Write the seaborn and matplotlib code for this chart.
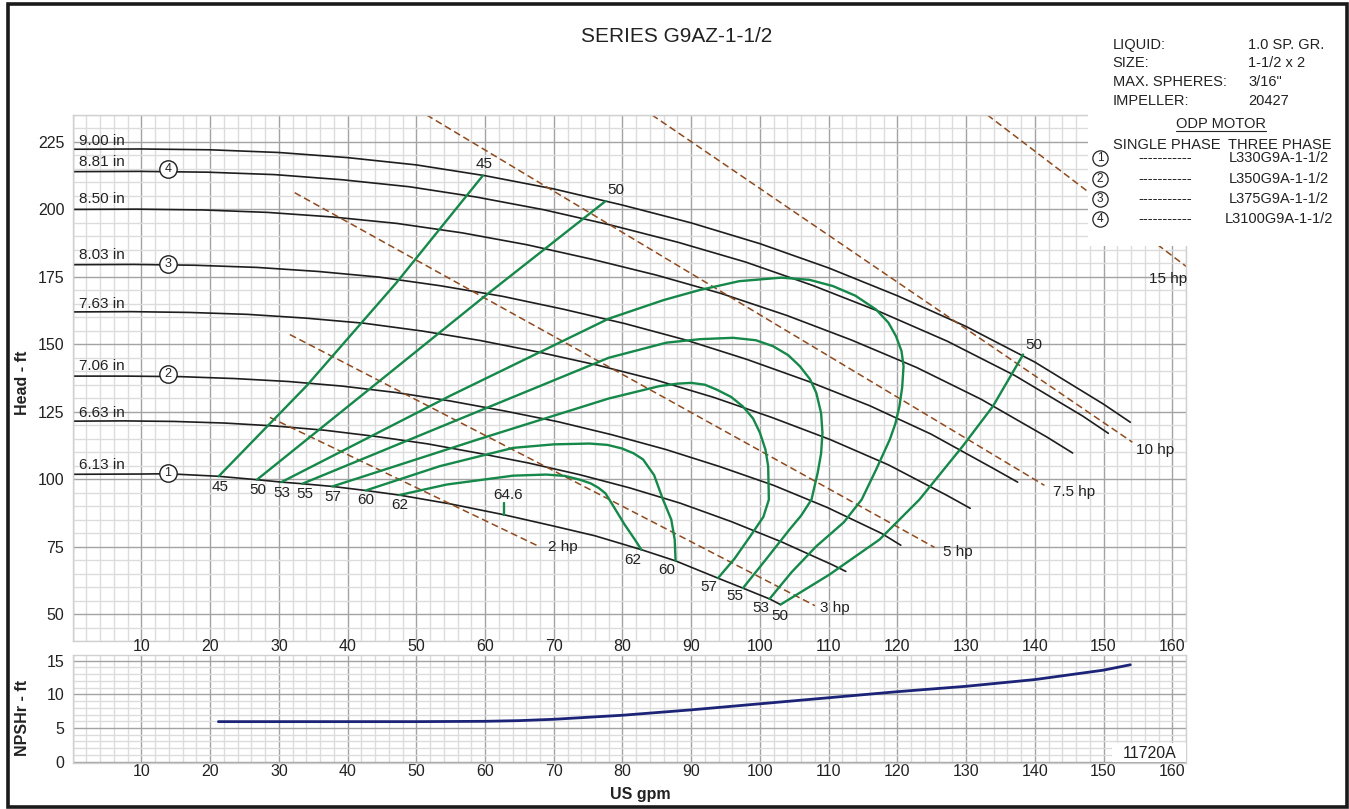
import numpy as np
import pandas as pd
import matplotlib.pyplot as plt
from matplotlib.patches import Rectangle
from matplotlib.lines import Line2D
from matplotlib.ticker import MultipleLocator, FixedLocator, FuncFormatter
import seaborn as sns

# ---- head curves (US gpm, ft) per impeller trim ----
dia_labels = ["9.00 in", "8.81 in", "8.50 in", "8.03 in", "7.63 in", "7.06 in", "6.63 in", "6.13 in"]

q_900 = [0, 10, 20, 30, 40, 50, 60, 70, 80, 90, 100, 110, 120, 130, 140, 150, 153.9]
h_900 = [222.3, 222.4, 222.1, 221.1, 219.2, 216.5, 212.5, 207.6, 201.6, 195.0, 187.3, 178.3, 168.0, 156.6, 143.4, 127.8, 121.1]
q_881 = [0, 9.8, 19.6, 29.4, 39.2, 49.0, 58.7, 68.5, 78.3, 88.1, 97.9, 107.7, 117.5, 127.3, 137.1, 146.9, 150.7]
h_881 = [214.0, 214.1, 213.8, 212.9, 211.0, 208.4, 204.6, 199.9, 194.2, 187.8, 180.5, 171.8, 162.0, 151.1, 138.4, 123.5, 117.0]
q_850 = [0, 9.4, 18.9, 28.3, 37.8, 47.2, 56.7, 66.1, 75.6, 85.0, 94.4, 103.9, 113.3, 122.8, 132.2, 141.7, 145.5]
h_850 = [200.0, 200.1, 199.8, 198.9, 197.2, 194.8, 191.3, 186.9, 181.5, 175.6, 168.8, 160.7, 151.6, 141.4, 129.6, 115.7, 109.7]
q_803 = [0, 8.9, 17.8, 26.8, 35.7, 44.6, 53.5, 62.5, 71.4, 80.3, 89.2, 98.1, 107.1, 116.0, 124.9, 133.8, 137.5]
h_803 = [179.5, 179.6, 179.3, 178.5, 177.0, 174.9, 171.7, 167.8, 163.0, 157.7, 151.6, 144.4, 136.2, 127.2, 116.7, 104.2, 98.9]
q_763 = [0, 8.5, 17.0, 25.4, 33.9, 42.4, 50.9, 59.3, 67.8, 76.3, 84.8, 93.3, 101.7, 110.2, 118.7, 127.2, 130.6]
h_763 = [162.0, 162.1, 161.8, 161.1, 159.7, 157.8, 154.9, 151.4, 147.1, 142.3, 136.8, 130.3, 122.9, 114.7, 105.3, 94.0, 89.2]
q_706 = [0, 7.8, 15.7, 23.5, 31.4, 39.2, 47.1, 54.9, 62.8, 70.6, 78.4, 86.3, 94.1, 102.0, 109.8, 117.7, 120.5]
h_706 = [138.2, 138.2, 138.0, 137.3, 136.2, 134.5, 132.1, 129.0, 125.3, 121.3, 116.5, 111.0, 104.7, 97.7, 89.5, 79.9, 75.5]
q_663 = [0, 7.4, 14.7, 22.1, 29.5, 36.8, 44.2, 51.6, 58.9, 66.3, 73.7, 81.0, 88.4, 95.8, 103.1, 110.5, 112.5]
h_663 = [121.5, 121.6, 121.4, 120.8, 119.7, 118.1, 115.8, 113.1, 109.7, 106.0, 101.7, 96.8, 91.1, 84.3, 76.8, 68.3, 65.8]
q_613 = [0, 10, 13.9, 21.24, 26.81, 30.37, 33.42, 37.79, 42.63, 47.52, 55.0, 62.75, 70.0, 76.0, 82.74, 87.73, 93.89, 97.53, 101.4, 103.0]
h_613 = [101.8, 101.9, 102.0, 101.06, 99.8, 98.9, 98.3, 97.3, 95.8, 94.1, 90.8, 86.8, 82.6, 79.0, 73.86, 69.7, 63.3, 59.6, 55.6, 53.5]

head_q = [q_900, q_881, q_850, q_803, q_763, q_706, q_663, q_613]
head_h = [h_900, h_881, h_850, h_803, h_763, h_706, h_663, h_613]

# ---- efficiency (%) iso lines ----
e45_q = [21.24, 34.0, 47.1, 59.7]
e45_h = [101.06, 134.5, 172.8, 212.6]
e50l_q = [26.81, 43.0, 59.7, 77.55]
e50l_h = [99.8, 133.0, 167.3, 203.1]
e53_q = [30.37, 55.0, 78.0, 86.0, 91.2, 97.0, 103.1, 107.2, 110.6, 113.9, 116.9, 118.7, 119.8, 120.6, 120.9, 120.7, 120.3, 119.7, 118.9, 116.9, 114.8, 112.2, 108.2, 104.6, 101.4]
e53_h = [98.9, 131.0, 159.5, 166.4, 170.1, 173.4, 174.7, 173.9, 171.6, 168.0, 162.9, 158.0, 153.0, 147.5, 141.9, 134.0, 127.0, 120.5, 114.7, 103.5, 92.4, 84.0, 75.1, 65.5, 55.6]
e55_q = [33.42, 56.5, 78.0, 86.4, 91.3, 96.1, 99.4, 101.9, 104.1, 105.8, 107.3, 108.2, 108.9, 109.1, 108.9, 108.4, 107.5, 106.0, 104.3, 100.8, 97.53]
e55_h = [98.3, 122.5, 145.0, 150.6, 151.9, 152.4, 151.5, 149.3, 146.0, 141.9, 137.0, 132.0, 124.5, 117.2, 109.5, 102.3, 92.4, 86.5, 81.3, 70.0, 59.6]
e57_q = [37.79, 59.2, 78.0, 85.4, 88.0, 90.0, 92.0, 93.7, 95.8, 97.5, 99.0, 100.0, 100.8, 101.2, 101.3, 100.5, 98.5, 96.3, 93.89]
e57_h = [97.3, 114.9, 129.9, 134.5, 135.4, 135.7, 135.0, 133.2, 130.5, 127.0, 122.5, 117.2, 111.0, 104.8, 92.4, 86.0, 78.5, 70.5, 63.3]
e60_q = [42.63, 53.4, 64.1, 70.0, 75.2, 77.8, 79.9, 81.6, 83.0, 84.6, 85.9, 87.1, 87.6, 87.73]
e60_h = [95.8, 104.8, 111.6, 112.9, 113.2, 112.7, 111.4, 109.6, 107.3, 101.5, 92.4, 85.0, 77.6, 69.7]
e62_q = [47.52, 54.4, 64.1, 68.9, 71.6, 73.8, 75.4, 76.5, 77.5, 78.1, 80.3, 81.8, 82.74]
e62_h = [94.1, 98.0, 101.3, 101.7, 101.2, 99.8, 98.4, 96.8, 94.8, 92.4, 83.2, 77.6, 73.86]
e50r_q = [103.0, 110.1, 117.4, 123.2, 129.5, 133.9, 138.3]
e50r_h = [53.5, 64.6, 77.6, 92.4, 112.2, 127.0, 146.2]
bep_q = [62.75, 62.75]
bep_h = [86.8, 91.2]

eff_q = [e45_q, e50l_q, e53_q, e55_q, e57_q, e60_q, e62_q, e50r_q, bep_q]
eff_h = [e45_h, e50l_h, e53_h, e55_h, e57_h, e60_h, e62_h, e50r_h, bep_h]

# ---- motor power lines ----
hp_labels = ["2 hp", "3 hp", "5 hp", "7.5 hp", "10 hp", "15 hp"]
hp_q = [[28.7, 67.9], [31.6, 108.0], [32.3, 125.4], [51.5, 141.4], [84.3, 154.2], [133.1, 162.0]]
hp_h = [[122.9, 75.0], [153.6, 53.1], [206.2, 74.7], [235.0, 97.7], [235.0, 113.7], [235.0, 178.9]]

# ---- NPSHr ----
npsh_q = [21.2, 30, 40, 50, 60, 65, 70, 80, 90, 100, 110, 120, 130, 140, 150, 153.9]
npsh_h = [5.95, 5.95, 5.95, 5.95, 6.0, 6.1, 6.3, 6.9, 7.7, 8.6, 9.5, 10.4, 11.2, 12.2, 13.6, 14.4]

info_keys = ["LIQUID:", "SIZE:", "MAX. SPHERES:", "IMPELLER:"]
info_vals = ["1.0 SP. GR.", "1-1/2 x 2", "3/16\"", "20427"]
motor_ids = ["1", "2", "3", "4"]
motor_models = ["L330G9A-1-1/2", "L350G9A-1-1/2", "L375G9A-1-1/2", "L3100G9A-1-1/2"]

# ------------------------------------------------------------------
sns.set_theme(style="white")
plt.rcParams['font.family'] = ['Liberation Sans', 'DejaVu Sans']

W, H = 1349, 809
def fx(px):
    return px / W
def fy(py):
    return 1 - py / H

BLACK = '#1e1e1e'
GREEN = '#15884a'
BROWN = '#8f4a1e'
NAVY = '#1c2478'
TXT = '#222222'
FS = 11

fig = plt.figure(figsize=(W / 100, H / 100), dpi=100)
fig.patch.set_facecolor('white')
ax = fig.add_axes([fx(72.7), fy(641), fx(1186) - fx(72.7), fy(115) - fy(641)])
ax2 = fig.add_axes([fx(72.7), fy(762.7), fx(1186) - fx(72.7), fy(655) - fy(762.7)])

for a in (ax, ax2):
    a.set_facecolor('white')
    a.set_xlim(0, 162)
    a.xaxis.set_major_locator(MultipleLocator(10))
    a.xaxis.set_minor_locator(MultipleLocator(2))
    a.grid(which='minor', color='#dcdcdc', lw=1.0)
    a.grid(which='major', color='#a3a3a3', lw=1.0)
    a.set_axisbelow(True)
    for s in a.spines.values():
        s.set_color('#d0d0d0')
        s.set_linewidth(1.0)
    a.tick_params(which='both', length=0, labelsize=11.5, colors=TXT)

ax.set_ylim(40, 235)
ax.yaxis.set_major_locator(FixedLocator([50, 75, 100, 125, 150, 175, 200, 225]))
ax.yaxis.set_minor_locator(MultipleLocator(5))
ax.tick_params(axis='x', labelbottom=False)
ax.tick_params(axis='y', pad=6)

ax2.set_ylim(-0.15, 15.85)
ax2.yaxis.set_major_locator(FixedLocator([0, 5, 10, 15]))
ax2.yaxis.set_minor_locator(MultipleLocator(1))
ax2.xaxis.set_major_formatter(FuncFormatter(lambda v, p: '' if v == 0 else f'{v:.0f}'))
ax2.tick_params(axis='x', top=True, labeltop=True, labelbottom=True, pad=1)
ax2.tick_params(axis='y', pad=6)

# head curves
for q, h in zip(head_q, head_h):
    sns.lineplot(x=q, y=h, ax=ax, color=BLACK, linewidth=1.2, sort=False, estimator=None)

# power lines
for q, h in zip(hp_q, hp_h):
    sns.lineplot(x=q, y=h, ax=ax, color=BROWN, linewidth=1.1, linestyle=(0, (4.5, 2.5)),
                 sort=False, estimator=None)

# efficiency lines
for q, h in zip(eff_q, eff_h):
    sns.lineplot(x=q, y=h, ax=ax, color=GREEN, linewidth=1.7, sort=False, estimator=None)

# npsh
sns.lineplot(x=npsh_q, y=npsh_h, ax=ax2, color=NAVY, linewidth=2.0, sort=False, estimator=None)
for a in (ax, ax2):
    a.set_xlabel('')
    a.set_ylabel('')

# diameter labels
dia_lbl_h = [225.4, 217.4, 203.7, 183.0, 165.0, 141.9, 124.6, 105.4]
for lbl, y in zip(dia_labels, dia_lbl_h):
    ax.text(0.9, y, lbl, ha='left', va='center', fontsize=FS, color=TXT)

# circled motor numbers on curves
circ_h = [214.9, 179.9, 139.1, 102.3]
for n, y in zip(["4", "3", "2", "1"], circ_h):
    ax.plot([13.87], [y], marker='o', ms=12.5, mfc='white', mec=BLACK, mew=1.0, zorder=5)
    ax.text(13.87, y, n, ha='center', va='center', fontsize=9, color=TXT, zorder=6)

# efficiency labels
eff_lbl = ["45", "50", "53", "55", "57", "60", "62", "62", "60", "57", "55", "53", "50", "45", "50", "50", "64.6"]
eff_lbl_q = [21.5, 27.0, 30.5, 33.8, 37.9, 42.7, 47.6, 81.5, 86.5, 92.6, 96.3, 100.1, 102.9, 59.8, 79.1, 139.9, 63.3]
eff_lbl_h = [97.0, 95.9, 94.9, 94.5, 93.4, 92.2, 90.3, 70.1, 66.2, 60.2, 56.5, 52.4, 49.1, 216.8, 207.1, 149.9, 94.3]
for lbl, q, h in zip(eff_lbl, eff_lbl_q, eff_lbl_h):
    ax.text(q, h, lbl, ha='center', va='center', fontsize=FS, color=TXT)

# hp labels
hp_lbl_q = [69.1, 108.7, 126.6, 142.7, 154.7, 156.6]
hp_lbl_h = [75.0, 52.4, 73.1, 95.4, 110.9, 174.1]
for lbl, q, h in zip(hp_labels, hp_lbl_q, hp_lbl_h):
    ax.text(q, h, lbl, ha='left', va='center', fontsize=FS, color=TXT)

# info box (white panel over the grid)
fig.add_artist(Rectangle((fx(1088), fy(246)), fx(1344) - fx(1088), fy(8) - fy(246),
                         transform=fig.transFigure, facecolor='white', edgecolor='none', zorder=3))
IFS = 10.5
info_y = [45, 63, 82, 101]
for k, v, y in zip(info_keys, info_vals, info_y):
    fig.text(fx(1112.7), fy(y), k, ha='left', va='center', fontsize=IFS, color=TXT, zorder=4)
    fig.text(fx(1248), fy(y), v, ha='left', va='center', fontsize=IFS, color=TXT, zorder=4)
fig.text(fx(1221), fy(124), "ODP MOTOR", ha='center', va='center', fontsize=IFS, color=TXT, zorder=4)
fig.add_artist(Line2D([fx(1176), fx(1266)], [fy(130.5), fy(130.5)], color=TXT, lw=0.8, zorder=4))
fig.text(fx(1112.7), fy(145), "SINGLE PHASE", ha='left', va='center', fontsize=IFS, color=TXT, zorder=4)
fig.text(fx(1228), fy(145), "THREE PHASE", ha='left', va='center', fontsize=IFS, color=TXT, zorder=4)
motor_y = [158, 179, 199, 219]
for n, m, y in zip(motor_ids, motor_models, motor_y):
    fig.add_artist(Line2D([fx(1100)], [fy(y)], marker='o', ms=11, mfc='white', mec=TXT, mew=0.9,
                          transform=fig.transFigure, zorder=4))
    fig.text(fx(1100), fy(y), n, ha='center', va='center', fontsize=8.5, color=TXT, zorder=5)
    fig.text(fx(1165), fy(y), "-----------", ha='center', va='center', fontsize=IFS, color=TXT, zorder=4)
    fig.text(fx(1279), fy(y), m, ha='center', va='center', fontsize=IFS, color=TXT, zorder=4)

# drawing number box
fig.add_artist(Rectangle((fx(1111.7), fy(762)), fx(1185.5) - fx(1111.7), fy(742.7) - fy(762),
                         transform=fig.transFigure, facecolor='white', edgecolor='none', zorder=3))
fig.text(fx(1150), fy(753), "11720A", ha='center', va='center', fontsize=11.5, color=TXT, zorder=4)

# titles and axis labels
fig.text(fx(677), fy(37), "SERIES G9AZ-1-1/2", ha='center', va='center', fontsize=15, color=TXT)
fig.text(fx(640), fy(795), "US gpm", ha='center', va='center', fontsize=11.5, fontweight='bold', color=TXT)
fig.text(fx(23), fy(383), "Head - ft", ha='center', va='center', rotation=90, fontsize=11.5,
         fontweight='bold', color=TXT)
fig.text(fx(23), fy(718), "NPSHr - ft", ha='center', va='center', rotation=90, fontsize=11.5,
         fontweight='bold', color=TXT)

# outer frame
fig.add_artist(Rectangle((fx(7.5), fy(806.5)), fx(1346.5) - fx(7.5), fy(4) - fy(806.5),
                         transform=fig.transFigure, facecolor='none', edgecolor='#1a1a1a',
                         lw=2.6, zorder=10))

fig.savefig('out.png', dpi=100)
